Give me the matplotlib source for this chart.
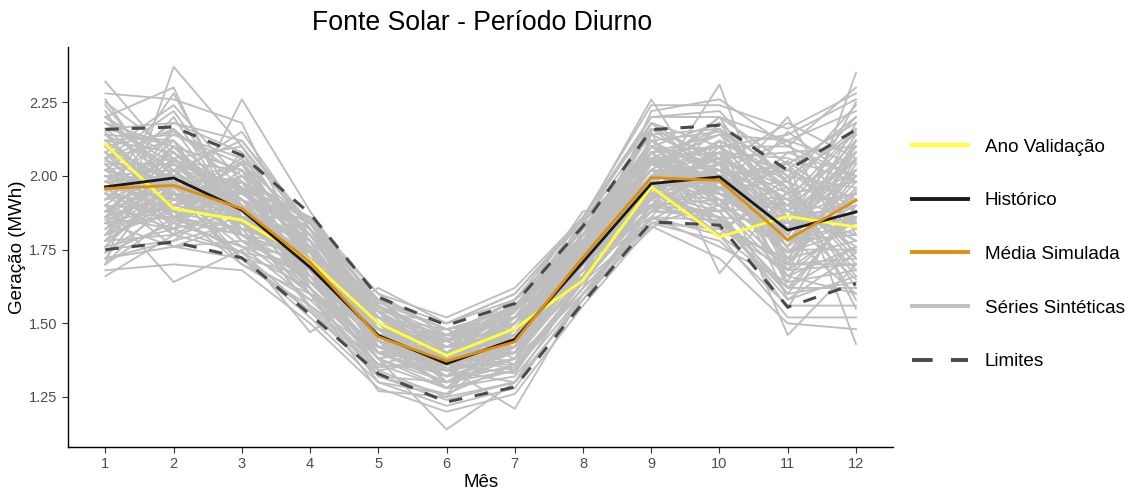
import numpy as np
import matplotlib
matplotlib.use('Agg')
import matplotlib.pyplot as plt
from matplotlib.lines import Line2D

plt.rcParams['font.family'] = ['Liberation Sans', 'DejaVu Sans']

# -------------------------------------------------------------------------
# dados

meses = list(range(1, 13))

ano_validacao = [2.107, 1.889, 1.850, 1.714, 1.501, 1.391, 1.482, 1.646, 1.963, 1.793, 1.863, 1.827]
historico = [1.963, 1.993, 1.884, 1.690, 1.459, 1.363, 1.446, 1.708, 1.974, 1.997, 1.816, 1.878]
media_simulada = [1.957, 1.968, 1.889, 1.708, 1.454, 1.372, 1.437, 1.725, 1.994, 1.985, 1.784, 1.917]
limite_sup = [2.158, 2.166, 2.070, 1.872, 1.589, 1.493, 1.567, 1.830, 2.157, 2.172, 2.019, 2.157]
limite_inf = [1.750, 1.776, 1.722, 1.530, 1.329, 1.233, 1.284, 1.570, 1.844, 1.833, 1.555, 1.635]

series_sinteticas = [
    [2.32, 2.05, 1.95, 1.80, 1.52, 1.42, 1.50, 1.78, 2.05, 2.10, 1.90, 2.05],
    [1.70, 2.37, 2.10, 1.75, 1.48, 1.30, 1.38, 1.70, 2.00, 2.20, 1.85, 1.65],
    [1.66, 1.80, 2.26, 1.88, 1.55, 1.45, 1.40, 1.75, 2.10, 1.95, 2.20, 1.80],
    [2.20, 2.30, 1.80, 1.62, 1.38, 1.14, 1.30, 1.65, 1.95, 2.31, 1.70, 2.35],
    [1.90, 1.64, 1.75, 1.47, 1.62, 1.50, 1.60, 1.85, 2.26, 1.90, 2.05, 1.43],
    [2.10, 2.15, 2.00, 1.85, 1.44, 1.35, 1.21, 1.60, 1.82, 2.00, 1.46, 1.70],
    [1.85, 1.95, 1.70, 1.60, 1.27, 1.25, 1.45, 1.80, 2.15, 1.67, 1.95, 2.20],
    [2.00, 1.90, 2.05, 1.75, 1.50, 1.40, 1.55, 1.88, 1.90, 2.10, 2.10, 2.00],
    [1.80, 2.10, 1.90, 1.68, 1.42, 1.32, 1.35, 1.62, 2.05, 1.85, 1.60, 1.90],
    [2.15, 1.85, 1.80, 1.72, 1.58, 1.48, 1.52, 1.70, 1.88, 2.05, 1.80, 2.10],
    [1.95, 2.20, 1.85, 1.55, 1.35, 1.38, 1.48, 1.77, 2.12, 2.15, 1.75, 1.75],
    [2.05, 2.00, 2.15, 1.82, 1.46, 1.28, 1.42, 1.68, 1.98, 1.80, 2.00, 1.55],
    [1.75, 1.78, 1.95, 1.66, 1.52, 1.44, 1.58, 1.82, 2.08, 1.92, 1.90, 2.15],
    [2.25, 2.08, 1.88, 1.78, 1.40, 1.36, 1.33, 1.66, 1.93, 2.08, 1.68, 1.85],
    [1.88, 1.98, 1.72, 1.58, 1.56, 1.46, 1.46, 1.74, 2.18, 1.98, 1.82, 2.25],
    [2.08, 1.82, 2.08, 1.70, 1.32, 1.26, 1.50, 1.72, 1.86, 2.12, 1.98, 1.62],
    [1.92, 2.12, 1.82, 1.84, 1.50, 1.40, 1.40, 1.80, 2.02, 1.88, 1.55, 1.95],
    [1.78, 1.92, 1.98, 1.64, 1.44, 1.34, 1.56, 1.64, 1.96, 2.02, 2.12, 1.72],
    [2.18, 2.02, 1.78, 1.74, 1.54, 1.30, 1.36, 1.76, 2.10, 1.94, 1.78, 2.08],
    [1.98, 1.88, 1.92, 1.62, 1.36, 1.42, 1.44, 1.84, 1.92, 2.18, 1.88, 1.80],
    [1.82, 2.05, 2.02, 1.80, 1.48, 1.38, 1.52, 1.66, 2.06, 1.82, 1.72, 2.02],
    [2.12, 1.94, 1.76, 1.66, 1.46, 1.48, 1.38, 1.70, 1.99, 2.06, 1.92, 1.68],
    [1.86, 2.16, 1.86, 1.72, 1.40, 1.32, 1.46, 1.78, 1.89, 1.96, 2.05, 1.88],
    [2.02, 1.84, 1.96, 1.86, 1.56, 1.40, 1.34, 1.62, 2.14, 2.04, 1.64, 2.12],
    [1.94, 1.76, 1.84, 1.68, 1.38, 1.44, 1.54, 1.86, 1.94, 1.86, 1.84, 1.92],
    [2.06, 2.22, 1.90, 1.60, 1.50, 1.36, 1.42, 1.72, 2.04, 2.14, 1.96, 1.58],
    [1.76, 1.98, 2.04, 1.76, 1.44, 1.28, 1.48, 1.68, 1.85, 1.98, 1.76, 2.18],
    [2.22, 1.86, 1.74, 1.70, 1.52, 1.46, 1.58, 1.76, 2.08, 1.90, 2.15, 1.98],
    [1.90, 2.08, 1.94, 1.82, 1.42, 1.34, 1.40, 1.64, 2.00, 2.08, 1.58, 1.74],
    [2.00, 1.96, 1.80, 1.64, 1.54, 1.42, 1.50, 1.80, 1.90, 1.92, 1.86, 2.06],
    [1.84, 1.90, 2.00, 1.74, 1.34, 1.38, 1.44, 1.74, 2.16, 2.00, 2.02, 1.84],
    [2.14, 2.12, 1.92, 1.66, 1.48, 1.32, 1.52, 1.70, 1.96, 1.84, 1.70, 1.96],
    [1.96, 1.80, 1.86, 1.78, 1.46, 1.44, 1.36, 1.82, 2.02, 2.16, 1.94, 1.66],
    [1.72, 2.02, 1.78, 1.70, 1.58, 1.40, 1.46, 1.66, 1.94, 1.94, 1.80, 2.14],
    [2.10, 1.92, 2.06, 1.62, 1.40, 1.46, 1.54, 1.78, 2.10, 2.02, 1.66, 1.76],
    [1.88, 2.04, 1.84, 1.80, 1.50, 1.30, 1.42, 1.72, 1.88, 1.88, 2.08, 2.00],
    [2.04, 1.86, 1.96, 1.72, 1.44, 1.40, 1.48, 1.76, 2.04, 2.10, 1.82, 1.86],
    [1.80, 1.94, 1.90, 1.64, 1.48, 1.36, 1.40, 1.68, 1.98, 1.96, 1.90, 1.94],
    [1.98, 2.00, 1.82, 1.76, 1.42, 1.42, 1.50, 1.74, 2.06, 1.98, 1.74, 1.82],
    [1.92, 1.96, 1.88, 1.70, 1.46, 1.38, 1.46, 1.72, 2.00, 2.00, 1.86, 1.90],
    [2.16, 1.98, 1.98, 1.76, 1.52, 1.34, 1.38, 1.80, 1.96, 2.06, 1.70, 2.04],
    [1.78, 2.06, 1.80, 1.68, 1.38, 1.42, 1.56, 1.66, 2.08, 1.90, 1.96, 1.70],
    [2.08, 1.90, 1.94, 1.84, 1.54, 1.38, 1.44, 1.84, 1.92, 2.04, 1.80, 2.10],
    [1.86, 2.10, 2.02, 1.62, 1.40, 1.32, 1.52, 1.70, 2.12, 1.94, 1.92, 1.78],
    [1.94, 1.84, 1.76, 1.72, 1.48, 1.46, 1.42, 1.78, 1.98, 2.12, 1.62, 1.88],
    [2.12, 2.14, 2.04, 1.84, 1.57, 1.48, 1.55, 1.82, 2.14, 2.16, 2.00, 2.14],
    [1.78, 1.80, 1.74, 1.54, 1.34, 1.25, 1.30, 1.58, 1.86, 1.85, 1.58, 1.66],
    [2.18, 2.10, 1.86, 1.86, 1.56, 1.44, 1.56, 1.80, 2.12, 1.96, 2.02, 2.20],
    [1.74, 1.84, 1.76, 1.58, 1.36, 1.28, 1.32, 1.60, 1.88, 1.86, 1.62, 1.62],
    [2.02, 2.18, 2.08, 1.78, 1.42, 1.46, 1.52, 1.84, 2.20, 2.22, 1.98, 2.24],
    [1.80, 1.88, 1.70, 1.56, 1.40, 1.30, 1.34, 1.64, 1.84, 1.90, 1.66, 1.60],
    [2.20, 2.06, 2.10, 1.82, 1.58, 1.42, 1.46, 1.86, 2.06, 2.08, 2.06, 1.98],
    [1.70, 1.86, 1.82, 1.60, 1.32, 1.30, 1.38, 1.60, 1.90, 1.84, 1.70, 1.72],
    [2.24, 1.96, 1.94, 1.80, 1.54, 1.50, 1.58, 1.78, 2.18, 2.04, 2.18, 2.06],
    [1.76, 1.82, 1.74, 1.62, 1.30, 1.26, 1.36, 1.62, 1.86, 1.76, 1.64, 1.68],
    [2.08, 2.24, 1.98, 1.86, 1.50, 1.40, 1.56, 1.82, 2.02, 2.20, 2.04, 2.18],
    [1.72, 1.78, 1.84, 1.56, 1.36, 1.34, 1.30, 1.58, 1.90, 1.88, 1.60, 1.64],
    [2.14, 2.02, 2.12, 1.82, 1.56, 1.44, 1.54, 1.80, 2.16, 2.06, 2.08, 2.10],
    [1.84, 1.76, 1.78, 1.60, 1.38, 1.28, 1.34, 1.62, 1.84, 1.82, 1.68, 1.70],
    [2.06, 2.16, 1.96, 1.82, 1.52, 1.46, 1.50, 1.84, 2.10, 2.18, 1.98, 2.16],
    [1.78, 1.94, 1.72, 1.66, 1.40, 1.32, 1.38, 1.66, 1.92, 1.80, 1.62, 1.76],
    [2.16, 2.10, 2.02, 1.72, 1.46, 1.38, 1.48, 1.72, 2.04, 2.02, 1.88, 2.12],
    [1.86, 1.82, 1.88, 1.74, 1.44, 1.36, 1.42, 1.70, 1.94, 1.92, 1.74, 1.86],
    [2.04, 2.04, 1.90, 1.66, 1.50, 1.42, 1.46, 1.74, 2.00, 2.04, 1.84, 1.84],
    [1.90, 1.88, 1.98, 1.78, 1.46, 1.36, 1.48, 1.76, 2.02, 1.94, 1.88, 2.02],
    [2.00, 2.02, 1.84, 1.70, 1.44, 1.40, 1.44, 1.70, 1.96, 2.00, 1.78, 1.80],
    [1.96, 1.92, 1.92, 1.76, 1.48, 1.40, 1.50, 1.78, 2.04, 2.06, 1.94, 1.98],
    [1.92, 2.08, 1.86, 1.68, 1.42, 1.34, 1.42, 1.68, 1.98, 1.96, 1.84, 1.92],
    [2.10, 1.94, 1.92, 1.74, 1.52, 1.44, 1.52, 1.76, 2.08, 2.10, 1.72, 2.00],
    [1.88, 1.86, 1.80, 1.72, 1.46, 1.38, 1.40, 1.72, 1.94, 1.88, 1.90, 1.76],
    [1.84, 2.00, 1.96, 1.64, 1.50, 1.40, 1.48, 1.74, 2.04, 2.02, 1.76, 1.94],
    [2.02, 1.94, 1.86, 1.78, 1.44, 1.38, 1.46, 1.80, 1.98, 1.96, 1.98, 1.88],
    [2.28, 2.26, 2.18, 1.70, 1.48, 1.36, 1.40, 1.70, 2.22, 2.26, 2.10, 2.30],
    [1.68, 1.70, 1.68, 1.50, 1.28, 1.20, 1.26, 1.56, 1.83, 1.72, 1.50, 1.48],
    [1.94, 2.28, 1.86, 1.86, 1.60, 1.52, 1.62, 1.86, 2.24, 2.24, 2.16, 2.28],
    [1.82, 1.96, 1.94, 1.78, 1.56, 1.44, 1.36, 1.64, 1.90, 2.10, 1.96, 1.72],
    [2.06, 1.88, 1.82, 1.60, 1.42, 1.34, 1.54, 1.82, 2.06, 1.92, 1.68, 2.06],
    [1.98, 2.14, 2.06, 1.80, 1.46, 1.42, 1.44, 1.70, 2.12, 2.00, 2.04, 1.82],
    [1.74, 1.90, 1.86, 1.70, 1.54, 1.38, 1.50, 1.78, 1.96, 2.08, 1.86, 2.08],
    [2.20, 2.00, 1.78, 1.66, 1.38, 1.30, 1.44, 1.68, 1.88, 1.98, 1.80, 1.60],
    [1.90, 1.82, 2.00, 1.84, 1.52, 1.46, 1.56, 1.80, 2.08, 2.14, 2.12, 2.04],
    [2.12, 2.08, 1.90, 1.64, 1.40, 1.36, 1.36, 1.64, 1.92, 1.86, 1.66, 1.86],
    [1.86, 1.94, 1.80, 1.76, 1.50, 1.44, 1.52, 1.84, 2.16, 2.06, 1.92, 2.16],
    [2.04, 1.80, 1.92, 1.68, 1.44, 1.32, 1.40, 1.66, 1.94, 1.90, 1.70, 1.70],
    [1.80, 2.02, 1.98, 1.82, 1.54, 1.42, 1.54, 1.76, 2.00, 2.12, 2.00, 1.96],
    [2.14, 1.92, 1.84, 1.70, 1.46, 1.40, 1.42, 1.74, 1.96, 1.94, 1.76, 2.12],
    [1.92, 2.10, 1.88, 1.62, 1.42, 1.36, 1.48, 1.70, 2.10, 2.04, 1.90, 1.78],
    [2.00, 1.86, 2.02, 1.80, 1.48, 1.34, 1.38, 1.78, 1.92, 2.00, 1.82, 2.02],
    [1.76, 2.00, 1.82, 1.74, 1.52, 1.48, 1.52, 1.72, 2.02, 1.90, 1.78, 1.84],
    [2.18, 2.04, 1.96, 1.68, 1.44, 1.38, 1.46, 1.80, 2.06, 2.16, 1.86, 1.94],
    [1.84, 1.86, 1.90, 1.76, 1.50, 1.36, 1.50, 1.68, 1.98, 1.82, 1.94, 2.08],
    [2.06, 2.12, 1.80, 1.72, 1.46, 1.42, 1.44, 1.76, 2.04, 1.98, 1.72, 1.78],
    [1.96, 1.84, 1.98, 1.66, 1.40, 1.40, 1.54, 1.82, 1.94, 2.08, 2.02, 1.92],
    [1.88, 2.06, 1.92, 1.82, 1.54, 1.38, 1.40, 1.68, 2.08, 1.94, 1.80, 2.06],
    [2.10, 1.98, 1.86, 1.64, 1.48, 1.44, 1.48, 1.74, 1.90, 2.02, 1.92, 1.86],
    [1.78, 1.92, 1.94, 1.78, 1.42, 1.34, 1.46, 1.80, 2.10, 1.96, 1.74, 1.98],
    [2.02, 2.06, 1.84, 1.74, 1.52, 1.40, 1.52, 1.70, 1.96, 2.06, 1.96, 1.74],
    [1.94, 1.90, 2.04, 1.70, 1.44, 1.38, 1.42, 1.78, 2.02, 1.92, 1.84, 2.00],
    [2.08, 1.96, 1.90, 1.76, 1.50, 1.42, 1.50, 1.76, 2.00, 2.02, 1.78, 1.90],
    [1.86, 2.02, 1.86, 1.68, 1.46, 1.36, 1.44, 1.72, 1.96, 1.98, 1.88, 1.84],
    [1.98, 1.92, 1.90, 1.72, 1.48, 1.40, 1.46, 1.74, 2.02, 2.00, 1.82, 1.92],
    [2.16, 2.18, 2.12, 1.84, 1.58, 1.50, 1.60, 1.86, 2.20, 2.20, 2.12, 2.22],
    [1.72, 1.76, 1.72, 1.54, 1.32, 1.24, 1.30, 1.58, 1.84, 1.78, 1.56, 1.56],
    [2.26, 1.92, 2.00, 1.84, 1.60, 1.46, 1.58, 1.86, 2.18, 2.10, 2.14, 2.26],
    [1.70, 1.94, 1.72, 1.52, 1.30, 1.22, 1.28, 1.60, 1.86, 1.80, 1.52, 1.52],
]

# -------------------------------------------------------------------------
# cores

cor_validacao = '#FFFF33'
cor_historico = '#1A1A1A'
cor_media = '#DE8F0C'
cor_sinteticas = '#BEBEBE'
cor_limites = '#4A4A4A'

# -------------------------------------------------------------------------
# plot

fig = plt.figure(figsize=(11.31, 4.91), dpi=100)
ax = fig.add_axes([0.060, 0.090, 0.730, 0.814])

for s in series_sinteticas:
    ax.plot(meses, s, color=cor_sinteticas, lw=1.35, zorder=1)

ax.plot(meses, limite_sup, color=cor_limites, lw=2.2, dashes=(4.4, 4.2), zorder=2)
ax.plot(meses, limite_inf, color=cor_limites, lw=2.2, dashes=(4.4, 4.2), zorder=2)
ax.plot(meses, ano_validacao, color=cor_validacao, lw=2.0, zorder=3)
ax.plot(meses, historico, color=cor_historico, lw=2.0, zorder=4)
ax.plot(meses, media_simulada, color=cor_media, lw=2.0, zorder=5)

ax.set_xlim(0.45, 12.55)
ax.set_ylim(1.081, 2.437)
ax.set_xticks(meses)
ax.set_yticks([1.25, 1.50, 1.75, 2.00, 2.25])
ax.set_yticklabels(['1.25', '1.50', '1.75', '2.00', '2.25'])

for lado in ['top', 'right']:
    ax.spines[lado].set_visible(False)
for lado in ['left', 'bottom']:
    ax.spines[lado].set_linewidth(1.0)
ax.tick_params(axis='both', length=4, width=0.8, labelsize=10.5, colors='#333333', labelcolor='#4D4D4D')

ax.set_xlabel('Mês', fontsize=13.5, va='center')
ax.set_ylabel('Geração (MWh)', fontsize=13.5, va='center')
ax.xaxis.set_label_coords(0.5, -0.089)
ax.yaxis.set_label_coords(-0.0606, 0.5)
fig.text(0.426, 0.953, 'Fonte Solar - Período Diurno', fontsize=19.2, ha='center', va='center')

# legenda fora da área do gráfico, à direita
handles = [
    Line2D([], [], color=cor_validacao, lw=2.8),
    Line2D([], [], color=cor_historico, lw=2.8),
    Line2D([], [], color=cor_media, lw=2.8),
    Line2D([], [], color=cor_sinteticas, lw=2.8),
    Line2D([], [], color=cor_limites, lw=2.8, dashes=(5.3, 4.7)),
]
labels = ['Ano Validação', 'Histórico', 'Média Simulada', 'Séries Sintéticas', 'Limites']
fig.legend(handles, labels, loc='center left', bbox_to_anchor=(0.8064, 0.4817),
           frameon=False, fontsize=13.6, handlelength=2.96, labelspacing=1.93,
           handletextpad=0.9, borderpad=0, borderaxespad=0)

plt.savefig('out.png', dpi=100)
